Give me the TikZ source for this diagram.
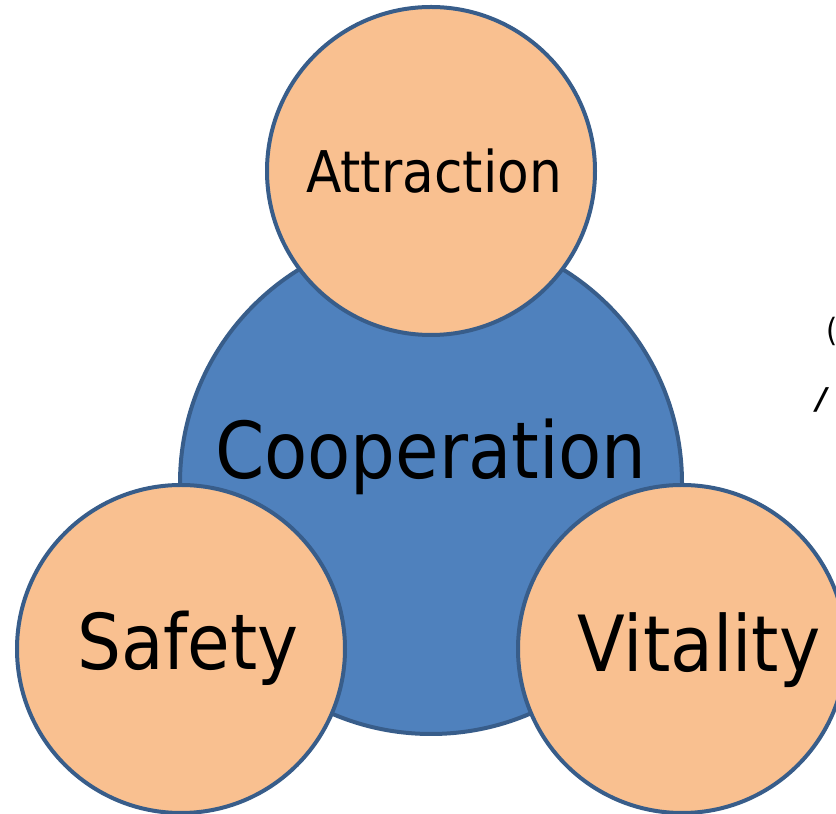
\documentclass[tikz,border=0pt]{standalone}
\usepackage{fontspec}
\setmainfont{DejaVu Sans Condensed}
\newfontfamily\fragfont{DejaVu Sans}
\definecolor{orangefill}{RGB}{249,192,144}
\definecolor{bluefill}{RGB}{79,129,189}
\definecolor{rimblue}{RGB}{56,93,138}
\begin{document}
\begin{tikzpicture}[x=1pt,y=1pt,
  disc/.style={circle, inner sep=0pt, draw=rimblue, line width=4pt},
  big/.style={disc, minimum size=502pt, fill=bluefill},
  small/.style={disc, minimum size=328pt, fill=orangefill},
  word/.style={anchor=base, inner sep=0pt, text=black}]
\useasboundingbox (0,0) rectangle (836,814);
\clip (0,0) rectangle (836,814);
\node[big] (coop) at (431,331) {};
\node[word, font=\fontsize{78.5}{90}\selectfont] (coopt) at (431,335) {Cooperation};
\node[small] (attr) at (431,643) {};
\node[word, font=\fontsize{57.5}{66}\selectfont] (attrt) at (434,621) {Attraction};
\node[small] (safe) at (181,165) {};
\node[word, font=\fontsize{77}{88}\selectfont] (safet) at (188,144) {Safety};
\node[small] (vita) at (682,165) {};
\node[word, font=\fontsize{77.5}{90}\selectfont] (vitat) at (699,142) {Vitality};
\node[anchor=base west, inner sep=0pt, font=\fontsize{32}{36}\selectfont] (frag1) at (826,472) {(};
\node[anchor=base west, inner sep=0pt, font=\fragfont\fontsize{30}{34}\selectfont\bfseries\itshape] (frag2) at (816,404) {/};
\end{tikzpicture}
\end{document}
